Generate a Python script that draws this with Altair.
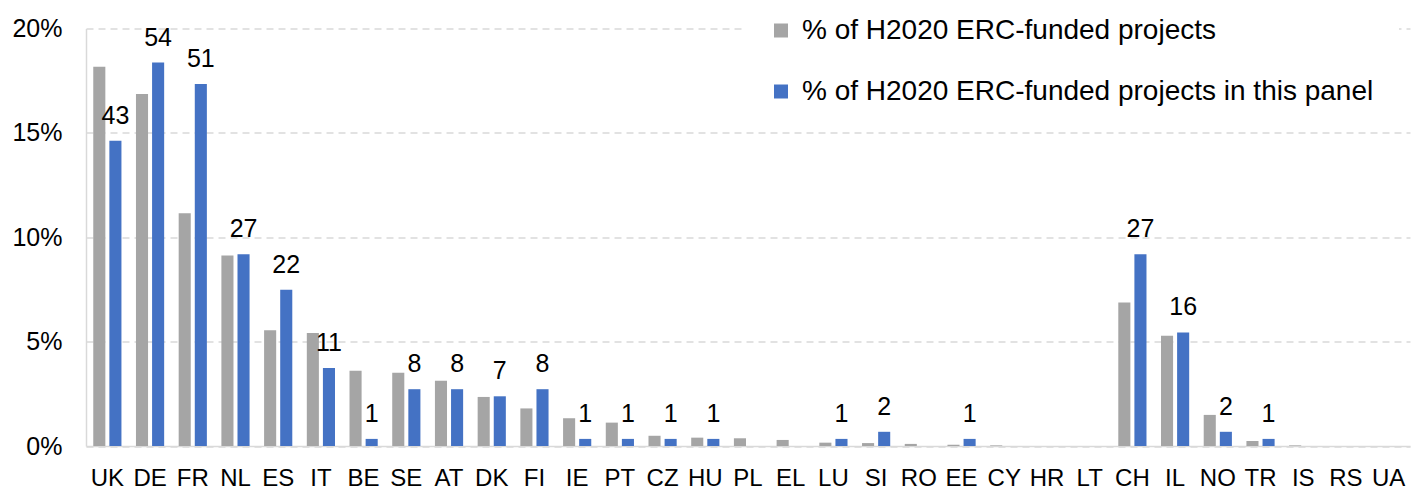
import altair as alt
import pandas as pd

FONT = "Liberation Sans"

countries = ["UK", "DE", "FR", "NL", "ES", "IT", "BE", "SE", "AT", "DK", "FI", "IE", "PT",
             "CZ", "HU", "PL", "EL", "LU", "SI", "RO", "EE", "CY", "HR", "LT", "CH", "IL",
             "NO", "TR", "IS", "RS", "UA"]
# % of H2020 ERC-funded projects
erc_share = [18.17, 16.86, 11.15, 9.12, 5.55, 5.41, 3.6, 3.51, 3.13, 2.35, 1.8, 1.33, 1.12,
             0.49, 0.4, 0.37, 0.29, 0.16, 0.14, 0.1, 0.06, 0.03, 0.0, 0.0, 6.88, 5.28,
             1.49, 0.24, 0.03, 0.0, 0.0]
# number of projects in this panel (data labels)
panel_counts = [43, 54, 51, 27, 22, 11, 1, 8, 8, 7, 8, 1, 1,
                1, 1, 0, 0, 1, 2, 0, 1, 0, 0, 0, 27, 16,
                2, 1, 0, 0, 0]

series_names = ["% of H2020 ERC-funded projects",
                "% of H2020 ERC-funded projects in this panel"]
colors = ["#A5A5A5", "#4472C4"]

total = sum(panel_counts)
rows = []
for c, g, n in zip(countries, erc_share, panel_counts):
    rows.append({"country": c, "series": series_names[0], "value": g, "label": ""})
    rows.append({"country": c, "series": series_names[1], "value": n / total * 100,
                 "label": str(n) if n > 0 else ""})
df = pd.DataFrame(rows)

x = alt.X("country:N", sort=countries,
          scale=alt.Scale(paddingInner=0.34, paddingOuter=0.17),
          axis=alt.Axis(title=None, labelAngle=0, labelFontSize=24, labelPadding=20,
                        ticks=False, domainColor="#D9D9D9", domainWidth=1.5,
                        labelColor="black", labelFont=FONT, grid=False))
xo = alt.XOffset("series:N", sort=series_names,
                 scale=alt.Scale(domain=series_names, paddingInner=0.25, paddingOuter=0))
y = alt.Y("value:Q", scale=alt.Scale(domain=[0, 20], nice=False),
          axis=alt.Axis(title=None, values=[0, 5, 10, 15, 20],
                        labelExpr="datum.value + '%'", ticks=False,
                        domainColor="#D9D9D9", domainWidth=1.5,
                        gridColor="#D9D9D9", gridDash=[7, 5], gridWidth=1.3,
                        labelFontSize=25, labelPadding=24, labelFont=FONT,
                        labelColor="black"))

bars = alt.Chart(df).mark_bar().encode(
    x=x, xOffset=xo, y=y,
    color=alt.Color("series:N", sort=series_names,
                    scale=alt.Scale(domain=series_names, range=colors),
                    legend=alt.Legend(title=None, orient="none", legendX=656, legendY=-37,
                                      fillColor="white", padding=25, symbolType="square",
                                      symbolSize=196, symbolStrokeWidth=0,
                                      labelFontSize=28, labelFont=FONT,
                                      labelColor="black", rowPadding=33, labelOffset=7,
                                      direction="vertical", labelLimit=900))
)

text = alt.Chart(df).transform_filter("datum.label != ''").mark_text(
    baseline="alphabetic", dy=-17, fontSize=25, font=FONT, color="black"
).encode(x=x, xOffset=xo, y=y, text="label:N")

chart = alt.layer(bars, text).properties(
    width=1324, height=417.5,
    padding={"left": 86, "top": 28.5, "right": 11, "bottom": 43},
    autosize=alt.AutoSizeParams(type="none"),
).configure_view(stroke="transparent")

chart.save("out.html", embed_options={"renderer": "svg", "actions": False})
